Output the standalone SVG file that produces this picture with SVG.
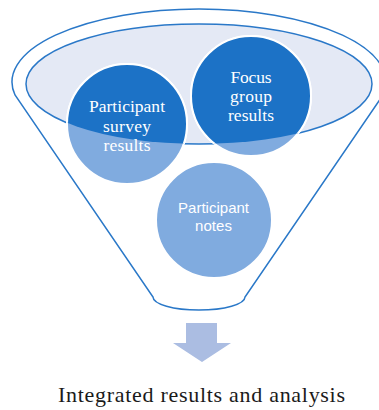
<svg xmlns="http://www.w3.org/2000/svg" width="379" height="410" viewBox="0 0 379 410">
  <style>
    .outline { fill: none; stroke: #2A78C8; stroke-width: 1.5; }
    .rim { fill: #E4E9F5; stroke: #2A78C8; stroke-width: 1.5; }
    .light { fill: #80ABDF; stroke: #FFFFFF; stroke-width: 2; }
    .dark { fill: #1C72C6; stroke: #FFFFFF; stroke-width: 2; }
    .serif { font-family: "Liberation Serif", "Times New Roman", serif; font-size: 17.5px; fill: #FFFFFF; text-anchor: middle; }
    .sans { font-family: "Liberation Sans", Arial, sans-serif; font-size: 15px; fill: #FFFFFF; text-anchor: middle; }
    .caption { font-family: "Liberation Serif", "Times New Roman", serif; font-size: 22px; fill: #1A1A1A; }
    .arrow { fill: #ABBDE2; }
  </style>
  <defs>
    <clipPath id="rimClip">
      <ellipse cx="199" cy="84" rx="173" ry="60"/>
    </clipPath>
  </defs>

  <!-- funnel body: elliptical top, straight sides, curved bottom -->
  <g id="funnel">
    <path class="outline" d="M15,95 A187,73 0 1 1 383,95 L245,297 A46,13 0 0 1 153,297 Z"/>
  </g>

  <!-- funnel mouth -->
  <g id="funnel-mouth">
    <ellipse class="rim" cx="199" cy="84" rx="173" ry="60"/>
  </g>

  <g id="survey-results">
    <circle class="light" cx="127" cy="124" r="60"/>
    <circle class="dark" cx="127" cy="124" r="60" clip-path="url(#rimClip)"/>
    <text class="serif" x="127" y="112" textLength="76">Participant</text>
    <text class="serif" x="127" y="131.5" textLength="48">survey</text>
    <text class="serif" x="127" y="151" textLength="47">results</text>
  </g>

  <g id="focus-group-results">
    <circle class="light" cx="251" cy="96" r="60"/>
    <circle class="dark" cx="251" cy="96" r="60" clip-path="url(#rimClip)"/>
    <text class="serif" x="251" y="83" textLength="41">Focus</text>
    <text class="serif" x="251" y="102" textLength="42">group</text>
    <text class="serif" x="251" y="121" textLength="46">results</text>
  </g>

  <g id="participant-notes">
    <circle class="light" cx="214" cy="220" r="58"/>
    <text class="sans" x="213.5" y="213" textLength="71">Participant</text>
    <text class="sans" x="213.5" y="231" textLength="37">notes</text>
  </g>

  <g id="connectors">
    <path class="arrow" d="M186,323 H217 V343 H231 L202,362 L173,343 H186 Z"/>
  </g>

  <g id="integrated-analysis">
    <text class="caption" x="58" y="402" textLength="287">Integrated results and analysis</text>
  </g>
</svg>
